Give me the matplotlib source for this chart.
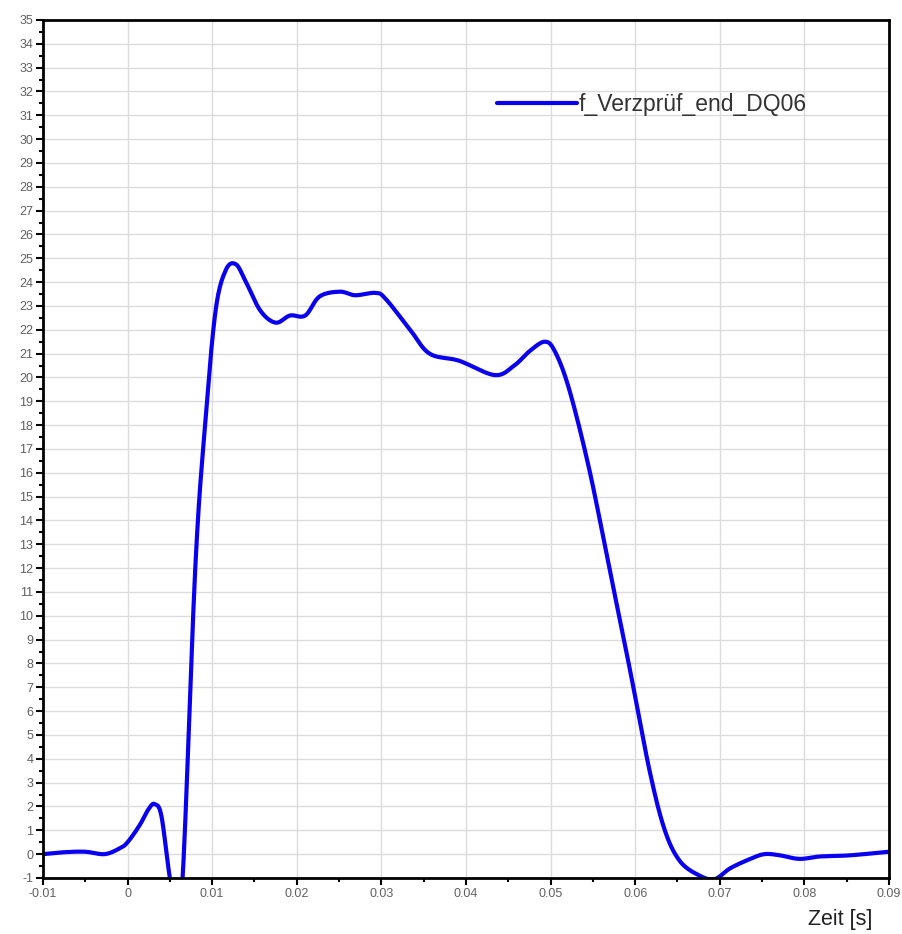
import matplotlib
matplotlib.use("Agg")
import matplotlib.pyplot as plt
from matplotlib.ticker import MultipleLocator
import numpy as np

t = [-0.01, -0.0075, -0.005, -0.0027, -0.0009, 0.0, 0.0014, 0.0025, 0.0032, 0.004, 0.005,
     0.0056, 0.0065, 0.008, 0.0092, 0.0104, 0.0116, 0.0128, 0.014, 0.0157, 0.0175,
     0.0192, 0.021, 0.0227, 0.0251, 0.0269, 0.0293, 0.0305, 0.0334, 0.0357, 0.0392,
     0.0434, 0.0457, 0.0475, 0.0493, 0.0505, 0.0522, 0.0546, 0.057, 0.0594, 0.0617,
     0.0635, 0.0653, 0.0676, 0.0694, 0.0712, 0.0736, 0.0753, 0.0771, 0.0794, 0.0818,
     0.0854, 0.09]
f = [0.0, 0.08, 0.1, 0.0, 0.25, 0.5, 1.2, 1.9, 2.1, 1.6, -1.0,
     -1.6, -1.0, 12.0, 18.2, 22.8, 24.5, 24.75, 24.0, 22.8, 22.3,
     22.6, 22.6, 23.4, 23.6, 23.45, 23.55, 23.3, 22.0, 21.0, 20.7,
     20.1, 20.5, 21.1, 21.5, 21.1, 19.5, 16.1, 11.9, 7.7, 3.5,
     1.0, -0.3, -0.9, -1.05, -0.6, -0.2, 0.0, -0.05, -0.2, -0.1,
     -0.05, 0.1]
series_name = "f_Verzprüf_end_DQ06"
x_label = "Zeit [s]"
x_tick_labels = ["-0.01", "0", "0.01", "0.02", "0.03", "0.04", "0.05", "0.06", "0.07", "0.08", "0.09"]

# smooth curve through the read points (Catmull-Rom spline)
def catmull(xs, ys, n=12):
    xs = np.asarray(xs); ys = np.asarray(ys)
    px = np.concatenate([[2*xs[0]-xs[1]], xs, [2*xs[-1]-xs[-2]]])
    py = np.concatenate([[2*ys[0]-ys[1]], ys, [2*ys[-1]-ys[-2]]])
    ox, oy = [], []
    for i in range(1, len(px)-2):
        s = np.linspace(0, 1, n, endpoint=False)
        for arr, out in ((px, ox), (py, oy)):
            p0, p1, p2, p3 = arr[i-1], arr[i], arr[i+1], arr[i+2]
            out.extend(0.5*((2*p1) + (-p0+p2)*s + (2*p0-5*p1+4*p2-p3)*s**2 + (-p0+3*p1-3*p2+p3)*s**3))
    ox.append(xs[-1]); oy.append(ys[-1])
    return np.array(ox), np.array(oy)

sx, sy = catmull(t, f)

plt.rcParams['font.family'] = ['Liberation Sans', 'DejaVu Sans']
fig = plt.figure(figsize=(9.03, 9.34), dpi=100)
ax = fig.add_axes([0.0476, 0.0600, 0.9369, 0.9186])
ax.plot(sx, sy, color='#0a00f0', lw=3.0, label=series_name, solid_capstyle='round')
ax.set_xlim(-0.01, 0.09)
ax.set_ylim(-1, 35)
ax.xaxis.set_minor_locator(MultipleLocator(0.005))
ax.yaxis.set_minor_locator(MultipleLocator(0.5))
ax.set_xticks(np.linspace(-0.01, 0.09, len(x_tick_labels)))
ax.set_xticklabels(x_tick_labels)
ax.set_yticks(np.arange(-1, 36, 1))
ax.set_yticklabels([str(v) for v in range(-1, 36)])
ax.grid(True, which='major', color='#dcdcdc', lw=1.0)
ax.tick_params(which='major', direction='out', length=5, width=1.5, labelsize=9, labelcolor='#606060', pad=2)
ax.tick_params(which='minor', direction='out', length=3, width=1.5)
for s in ax.spines.values():
    s.set_linewidth(2)
    s.set_color('black')
ax.legend(loc='center left', bbox_to_anchor=(497/903, 1 - 105/934), bbox_transform=fig.transFigure,
          frameon=False, fontsize=16.5, borderpad=0, borderaxespad=0,
          handlelength=3.5, handletextpad=0.05, labelcolor='#333333')
fig.text(872/903, 0.004, x_label, ha='right', va='bottom', fontsize=15.5, color='#222222')
fig.savefig("out.png", dpi=100)
